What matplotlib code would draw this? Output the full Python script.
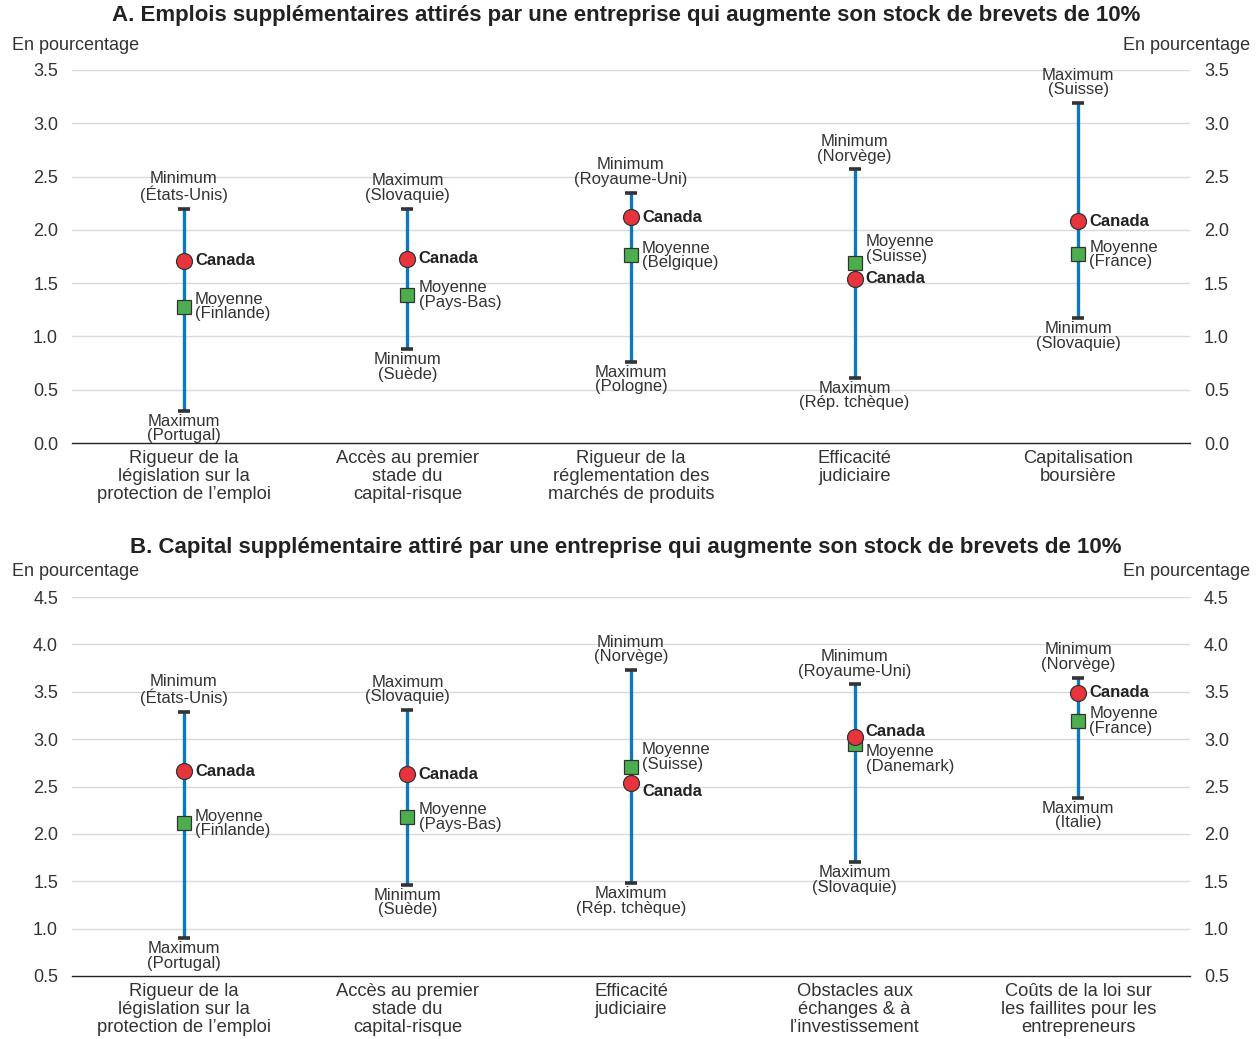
import matplotlib
matplotlib.use("Agg")
import matplotlib.pyplot as plt
import numpy as np

plt.rcParams['font.family'] = ['Liberation Sans', 'DejaVu Sans']

# ---- Panel A: employment ----
cats_a = ["Rigueur de la\nlégislation sur la\nprotection de l’emploi",
          "Accès au premier\nstade du\ncapital-risque",
          "Rigueur de la\nréglementation des\nmarchés de produits",
          "Efficacité\njudiciaire",
          "Capitalisation\nboursière"]
high_a = [2.20, 2.20, 2.35, 2.57, 3.19]
low_a = [0.30, 0.88, 0.76, 0.61, 1.17]
canada_a = [1.71, 1.73, 2.12, 1.54, 2.08]
mean_a = [1.28, 1.39, 1.76, 1.69, 1.77]
high_lab_a = ["Minimum\n(États-Unis)", "Maximum\n(Slovaquie)", "Minimum\n(Royaume-Uni)",
              "Minimum\n(Norvège)", "Maximum\n(Suisse)"]
low_lab_a = ["Maximum\n(Portugal)", "Minimum\n(Suède)", "Maximum\n(Pologne)",
             "Maximum\n(Rép. tchèque)", "Minimum\n(Slovaquie)"]
mean_lab_a = ["Moyenne\n(Finlande)", "Moyenne\n(Pays-Bas)", "Moyenne\n(Belgique)",
              "Moyenne\n(Suisse)", "Moyenne\n(France)"]

# ---- Panel B: capital ----
cats_b = ["Rigueur de la\nlégislation sur la\nprotection de l’emploi",
          "Accès au premier\nstade du\ncapital-risque",
          "Efficacité\njudiciaire",
          "Obstacles aux\néchanges & à\nl’investissement",
          "Coûts de la loi sur\nles faillites pour les\nentrepreneurs"]
high_b = [3.29, 3.31, 3.73, 3.58, 3.65]
low_b = [0.90, 1.46, 1.48, 1.70, 2.38]
canada_b = [2.66, 2.63, 2.54, 3.02, 3.49]
mean_b = [2.11, 2.18, 2.71, 2.95, 3.19]
high_lab_b = ["Minimum\n(États-Unis)", "Maximum\n(Slovaquie)", "Minimum\n(Norvège)",
              "Minimum\n(Royaume-Uni)", "Minimum\n(Norvège)"]
low_lab_b = ["Maximum\n(Portugal)", "Minimum\n(Suède)", "Maximum\n(Rép. tchèque)",
             "Maximum\n(Slovaquie)", "Maximum\n(Italie)"]
mean_lab_b = ["Moyenne\n(Finlande)", "Moyenne\n(Pays-Bas)", "Moyenne\n(Suisse)",
              "Moyenne\n(Danemark)", "Moyenne\n(France)"]

# vertical nudges (points) for the Canada / Moyenne labels where markers crowd
nudge_a = [0, 0, 0, 0, 0], [0, 0, 0, 10, 0]
nudge_b = [0, 0, -6, 4, 0], [0, 0, 7, -11, 0]

BLUE = "#0b79c0"
RED = "#e8343c"
GREEN = "#4cae4f"
GRID = "#d9d9d9"
TXT = "#333333"

fig = plt.figure(figsize=(12.59, 10.39), dpi=100)


def panel(rect, title, ylim, yticks, cats, high, low, canada, mean,
          high_lab, low_lab, mean_lab, nudges, title_y):
    ax = fig.add_axes(rect)
    x = np.arange(len(cats))
    ax.set_xlim(-0.5, len(cats) - 0.5)
    ax.set_ylim(*ylim)
    ax.set_yticks(yticks)
    ax.set_yticklabels([f"{t:.1f}" for t in yticks])
    for t in yticks[1:]:
        ax.axhline(t, color=GRID, lw=1.0, zorder=0)
    for s in ["top", "left", "right"]:
        ax.spines[s].set_visible(False)
    ax.spines["bottom"].set_color("#222222")
    ax.spines["bottom"].set_linewidth(1.0)
    ax.tick_params(axis="y", length=0, pad=10, labelsize=13, labelcolor=TXT,
                   labelright=True, right=False)
    ax.set_xticks(x)
    ax.set_xticklabels(cats, fontsize=13.2, color=TXT, linespacing=1.09)
    ax.tick_params(axis="x", length=0, pad=5)

    ax.vlines(x, low, high, color=BLUE, lw=2.4, zorder=2)
    ax.plot(x, high, ls="none", marker="_", ms=9, mew=2.6, color="#333333", zorder=3)
    ax.plot(x, low, ls="none", marker="_", ms=9, mew=2.6, color="#333333", zorder=3)
    ax.plot(x, mean, ls="none", marker="s", ms=10, mfc=GREEN, mec="#333333",
            mew=0.9, zorder=4)
    ax.plot(x, canada, ls="none", marker="o", ms=11.5, mfc=RED, mec="#333333",
            mew=0.9, zorder=5)

    can_n, mean_n = nudges
    for i in range(len(cats)):
        ax.annotate(high_lab[i], (x[i], high[i]), xytext=(0, 4),
                    textcoords="offset points", ha="center", va="bottom",
                    fontsize=12, color=TXT, linespacing=0.97)
        ax.annotate(low_lab[i], (x[i], low[i]), xytext=(0, -2),
                    textcoords="offset points", ha="center", va="top",
                    fontsize=12, color=TXT, linespacing=0.97)
        ax.annotate("Canada", (x[i], canada[i]), xytext=(8, can_n[i]),
                    textcoords="offset points", ha="left", va="center",
                    fontsize=12, color="#222222", fontweight="bold")
        ax.annotate(mean_lab[i], (x[i], mean[i]), xytext=(8, mean_n[i]),
                    textcoords="offset points", ha="left", va="center",
                    fontsize=12, color=TXT, linespacing=0.97)

    fig.text(0.497, title_y, title, ha="center", va="center", fontsize=16,
             fontweight="bold", color="#222222")
    top_px = 1 - (rect[1] + rect[3])
    fig.text(12 / 1259, 1 - (top_px * 1039 - 25) / 1039, "En pourcentage",
             ha="left", va="center", fontsize=13, color=TXT)
    fig.text(1250 / 1259, 1 - (top_px * 1039 - 25) / 1039, "En pourcentage",
             ha="right", va="center", fontsize=13, color=TXT)
    return ax


L, W = 72 / 1259, 1118 / 1259
panel([L, 1 - 443 / 1039, W, 373 / 1039],
      "A. Emplois supplémentaires attirés par une entreprise qui augmente son stock de brevets de 10%",
      (0, 3.5), [0, 0.5, 1.0, 1.5, 2.0, 2.5, 3.0, 3.5],
      cats_a, high_a, low_a, canada_a, mean_a, high_lab_a, low_lab_a, mean_lab_a,
      nudge_a, 1 - 16 / 1039)
panel([L, 1 - 976 / 1039, W, 379 / 1039],
      "B. Capital supplémentaire attiré par une entreprise qui augmente son stock de brevets de 10%",
      (0.5, 4.5), [0.5, 1.0, 1.5, 2.0, 2.5, 3.0, 3.5, 4.0, 4.5],
      cats_b, high_b, low_b, canada_b, mean_b, high_lab_b, low_lab_b, mean_lab_b,
      nudge_b, 1 - 548 / 1039)

fig.savefig("out.png", dpi=100)
